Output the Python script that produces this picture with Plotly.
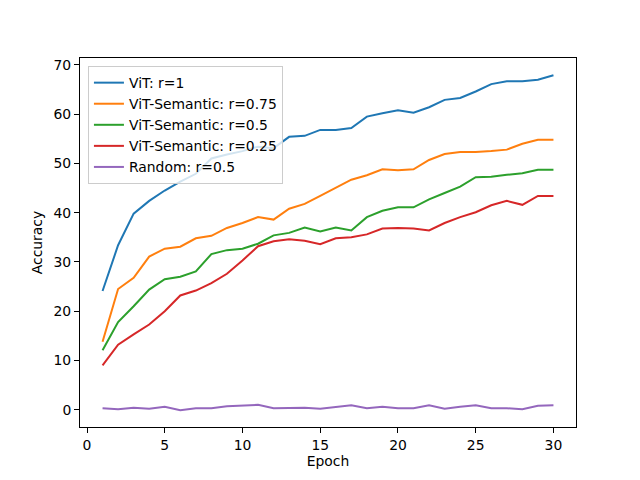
import plotly.graph_objects as go

# accuracy per epoch
epochs = list(range(1, 31))

vit_r1 = [24.1, 33.4, 39.8, 42.4, 44.5, 46.3, 47.9, 51.0, 51.8, 52.5, 53.4, 53.1, 55.4, 55.6, 56.8,
          56.8, 57.2, 59.5, 60.2, 60.8, 60.3, 61.4, 62.9, 63.3, 64.6, 66.1, 66.7, 66.7, 67.0, 67.9]
sem_r075 = [13.8, 24.5, 26.8, 31.1, 32.7, 33.1, 34.8, 35.3, 36.9, 37.9, 39.1, 38.6, 40.8, 41.8, 43.4,
            45.1, 46.7, 47.6, 48.8, 48.6, 48.8, 50.7, 51.9, 52.3, 52.3, 52.5, 52.8, 54.0, 54.8, 54.8]
sem_r05 = [12.1, 17.8, 21.0, 24.4, 26.5, 27.0, 28.1, 31.6, 32.4, 32.7, 33.7, 35.4, 35.9, 37.0, 36.2,
           37.0, 36.4, 39.1, 40.4, 41.1, 41.1, 42.7, 44.0, 45.3, 47.2, 47.3, 47.7, 48.0, 48.7, 48.7]
sem_r025 = [9.0, 13.2, 15.3, 17.3, 20.0, 23.2, 24.2, 25.7, 27.6, 30.3, 33.2, 34.2, 34.6, 34.3, 33.6,
            34.8, 35.0, 35.6, 36.8, 36.9, 36.8, 36.4, 37.9, 39.1, 40.1, 41.5, 42.4, 41.6, 43.4, 43.4]
random_r05 = [0.3, 0.1, 0.4, 0.2, 0.6, -0.1, 0.3, 0.3, 0.7, 0.9, 1.0, 0.3, 0.4, 0.4, 0.2,
              0.6, 0.9, 0.3, 0.6, 0.3, 0.3, 0.9, 0.2, 0.6, 0.9, 0.3, 0.3, 0.1, 0.8, 0.9]

names = ["ViT: r=1", "ViT-Semantic: r=0.75", "ViT-Semantic: r=0.5", "ViT-Semantic: r=0.25", "Random: r=0.5"]
series = [vit_r1, sem_r075, sem_r05, sem_r025, random_r05]
colors = ["#1f77b4", "#ff7f0e", "#2ca02c", "#d62728", "#9467bd"]

fig = go.Figure()
for name, vals, col in zip(names, series, colors):
    fig.add_trace(go.Scatter(x=epochs, y=vals, mode="lines", name=name,
                             line=dict(color=col, width=2)))

fs = 13.9
axis_style = dict(showline=True, linecolor="black", linewidth=1, mirror=True,
                  ticks="outside", ticklen=5, tickcolor="black", showgrid=False,
                  zeroline=False, tickfont=dict(size=fs, color="black"))

# page body has an 8px margin, so shrink the figure and shift margins to line up
fig.update_layout(
    width=632, height=472,
    margin=dict(l=72, r=64, t=50, b=53),
    paper_bgcolor="white", plot_bgcolor="white",
    font=dict(family="DejaVu Sans", size=fs, color="black"),
    xaxis=dict(title=dict(text="Epoch", standoff=4, font=dict(size=fs)), range=[-0.45, 31.45],
               tickvals=[0, 5, 10, 15, 20, 25, 30], **axis_style),
    yaxis=dict(title=dict(text="Accuracy", standoff=7, font=dict(size=fs)), range=[-3.5, 71.4],
               tickvals=[0, 10, 20, 30, 40, 50, 60, 70], **axis_style),
    legend=dict(x=0.016, y=0.978, xanchor="left", yanchor="top",
                bgcolor="rgba(255,255,255,0.8)", bordercolor="#cccccc", borderwidth=1,
                font=dict(size=fs), tracegroupgap=0),
    showlegend=True,
)

fig.write_html("out.html")
